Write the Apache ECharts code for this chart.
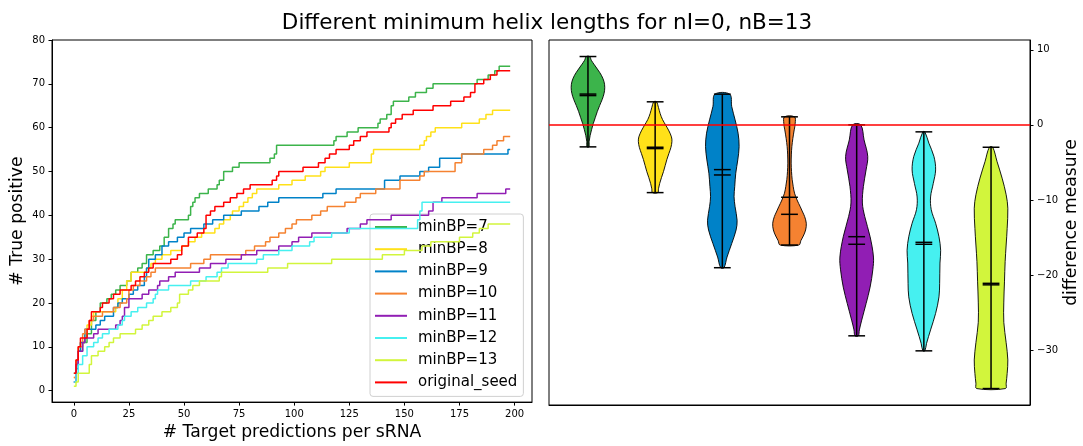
<!DOCTYPE html>
<html><head><meta charset="utf-8">
<script src="https://cdn.jsdelivr.net/npm/echarts@6/dist/echarts.min.js"></script>
<style>html,body{margin:0;padding:0;background:#fff}#c{width:1083px;height:446px}</style>
</head><body><div id="c"></div>
<script>
// ---- data ----
const titleText = 'Different minimum helix lengths for nI=0, nB=13';
const seriesNames = ['minBP=7','minBP=8','minBP=9','minBP=10','minBP=11','minBP=12','minBP=13','original_seed'];
const seriesColors = ['#3cb44b','#ffe119','#0082c8','#f58231','#911eb4','#46f0f0','#d2f53c','#ff0000'];
const xTickValues = [0,25,50,75,100,125,150,175,200];
const yTickValuesLeft = [0,10,20,30,40,50,60,70,80];
const yTickValuesRight = [-30,-20,-10,0,10];

// cumulative true positives: [x where value changes, new value]
const minBP7 = [[0,4],[1,6],[2,9],[4,11],[6,13],[8,16],[10,18],[12,20],[15,21],[17,22],[19,23],[21,24],[24,25],[26,27],[29,28],[31,29],[33,31],[36,32],[39,33],[41,35],[43,37],[45,38],[46,39],[52,40],[53,42],[54,43],[55,44],[57,45],[61,46],[65,47],[66,48],[68,50],[72,51],[75,52],[89,53],[91,54],[92,56],[118,57],[119,58],[124,59],[129,60],[138,61],[139,62],[142,63],[144,65],[145,66],[152,67],[155,68],[160,69],[163,70],[183,71],[188,72],[191,73],[193,74],[198,74]];
const minBP8 = [[0,3],[1,6],[2,9],[3,11],[5,13],[6,15],[8,17],[9,18],[19,19],[20,21],[22,23],[24,25],[26,27],[33,28],[35,29],[37,30],[40,31],[44,32],[49,33],[52,34],[55,35],[58,36],[64,37],[66,38],[68,39],[71,40],[72,41],[75,42],[77,43],[79,44],[81,45],[83,46],[93,47],[99,48],[105,49],[112,50],[114,51],[125,52],[135,54],[136,55],[157,56],[159,57],[160,58],[162,59],[164,60],[176,61],[184,62],[187,63],[190,64],[198,64]];
const minBP9 = [[0,2],[1,5],[2,9],[3,11],[5,14],[10,15],[12,16],[14,17],[18,19],[20,20],[22,21],[25,22],[27,23],[29,24],[32,26],[33,28],[34,30],[37,31],[40,33],[43,34],[47,35],[50,36],[53,37],[59,38],[63,39],[68,40],[76,41],[84,42],[88,43],[93,44],[113,45],[119,46],[141,48],[148,49],[157,50],[161,51],[166,53],[176,54],[197,55],[198,55]];
const minBP10 = [[0,3],[1,7],[2,10],[4,13],[5,14],[7,16],[9,17],[13,18],[18,19],[21,20],[24,21],[25,23],[27,24],[30,25],[33,26],[35,27],[37,28],[53,29],[59,30],[62,31],[78,32],[82,33],[87,34],[89,35],[93,36],[96,37],[99,38],[101,39],[108,40],[112,41],[115,42],[123,43],[128,44],[130,45],[137,46],[148,48],[157,49],[159,50],[173,52],[176,54],[186,55],[190,56],[192,57],[195,58],[198,58]];
const minBP11 = [[0,2],[1,6],[2,9],[4,11],[5,12],[9,13],[11,14],[19,15],[21,16],[22,17],[23,19],[25,21],[31,22],[34,23],[38,24],[39,25],[43,26],[46,27],[57,28],[62,29],[69,30],[76,31],[83,32],[93,33],[99,34],[102,35],[108,36],[124,37],[130,38],[133,39],[144,40],[161,41],[163,43],[167,44],[183,45],[196,46],[198,46]];
const minBP12 = [[0,2],[1,4],[2,6],[4,8],[6,10],[9,11],[11,12],[13,13],[16,14],[20,15],[22,16],[23,17],[26,18],[29,19],[33,20],[36,21],[37,22],[38,23],[43,24],[53,25],[60,26],[65,27],[67,28],[70,29],[83,30],[86,31],[93,32],[99,33],[107,34],[109,35],[117,36],[125,37],[156,39],[157,41],[158,43],[198,43]];
const minBP13 = [[0,1],[1,2],[2,4],[7,6],[8,8],[11,9],[14,10],[16,11],[18,12],[21,13],[28,14],[31,15],[34,16],[36,17],[40,18],[44,19],[47,20],[48,22],[52,23],[54,24],[57,25],[66,26],[67,27],[88,28],[97,29],[117,30],[140,31],[150,32],[158,33],[162,34],[175,35],[181,36],[184,37],[188,38],[198,38]];
const originalSeed = [[0,4],[1,7],[2,10],[3,12],[6,14],[7,16],[8,18],[12,19],[13,20],[16,21],[18,22],[21,23],[26,24],[28,25],[30,26],[32,27],[34,28],[36,29],[44,30],[47,31],[49,33],[52,35],[56,36],[59,37],[60,40],[62,41],[64,42],[68,43],[71,44],[74,45],[77,46],[80,47],[90,48],[92,49],[93,50],[104,51],[111,52],[114,53],[116,54],[119,55],[125,56],[127,57],[130,58],[133,59],[143,60],[144,61],[146,62],[149,63],[154,64],[163,65],[171,66],[177,67],[180,68],[182,70],[186,71],[189,72],[192,73],[198,73]];
const lineData = [minBP7, minBP8, minBP9, minBP10, minBP11, minBP12, minBP13, originalSeed];

// violins (difference measure)
const violinPositions = [1,2,3,4,5,6,7];
const violinMax = [9.1, 3.07, 4.09, 1.07, 0.0, -0.93, -2.98];
const violinMin = [-2.93, -9.02, -19.02, -16.0, -28.09, -30.09, -35.11];
const violinMean = [4.1, -2.98, -5.96, -9.64, -14.89, -15.64, -21.1];
const violinMedian = [3.9, -3.16, -6.67, -11.91, -15.9, -15.9, -21.3];
// density outline: [value, relative half-width]
const violinShape7 = [[9.1,0.1],[8.6,0.2],[8.0,0.38],[7.3,0.6],[6.6,0.8],[5.8,0.95],[5.0,1.0],[4.2,0.96],[3.4,0.85],[2.6,0.7],[1.8,0.56],[1.0,0.44],[0.2,0.32],[-0.6,0.22],[-1.4,0.13],[-2.2,0.07],[-2.93,0.06]];
const violinShape8 = [[3.07,0.08],[2.3,0.2],[1.5,0.3],[0.7,0.44],[0,0.62],[-0.8,0.82],[-1.6,0.97],[-2.2,1.0],[-3.0,0.94],[-3.8,0.82],[-4.6,0.7],[-5.4,0.6],[-6.2,0.5],[-7.0,0.38],[-7.8,0.27],[-8.5,0.2],[-9.02,0.16]];
const violinShape9 = [[4.09,0.44],[2.44,0.56],[0.67,0.76],[-1.11,0.94],[-2.89,1.0],[-4.67,0.92],[-6.44,0.8],[-8.2,0.74],[-9.56,0.7],[-10.9,0.76],[-12.7,0.88],[-14.0,0.82],[-15.8,0.56],[-17.6,0.28],[-19.02,0.1]];
const violinShape10 = [[1.07,0.3],[0.2,0.34],[-0.67,0.28],[-1.8,0.2],[-2.9,0.14],[-4.0,0.11],[-5.1,0.1],[-6.2,0.12],[-7.3,0.16],[-8.2,0.22],[-9.1,0.3],[-10.0,0.45],[-10.9,0.64],[-11.6,0.78],[-12.2,0.9],[-13.1,1.0],[-14.0,0.96],[-14.8,0.82],[-15.4,0.68],[-16.0,0.56]];
const violinShape11 = [[0,0.24],[-2.0,0.44],[-4.2,0.66],[-6.0,0.56],[-8.2,0.4],[-10.4,0.34],[-12.2,0.48],[-14.9,0.8],[-17.6,1.0],[-19.3,0.96],[-21.6,0.8],[-23.8,0.56],[-26.0,0.3],[-27.3,0.16],[-28.09,0.1]];
const violinShape12 = [[-0.93,0.06],[-2.44,0.3],[-4.2,0.6],[-6.0,0.7],[-7.8,0.56],[-9.6,0.4],[-11.3,0.44],[-13.1,0.7],[-14.9,0.9],[-16.7,1.0],[-18.4,0.96],[-21.1,0.94],[-22.9,0.9],[-25.1,0.7],[-27.3,0.4],[-29.1,0.16],[-30.09,0.06]];
const violinShape13 = [[-2.98,0.1],[-4.9,0.36],[-7.1,0.66],[-9.3,0.9],[-11.1,1.0],[-13.8,0.96],[-16.0,0.9],[-18.2,0.84],[-20.9,0.8],[-23.6,0.76],[-26.3,0.76],[-29.0,0.9],[-31.3,1.0],[-33.1,0.96],[-34.4,0.9],[-35.11,0.86]];
const violinShapes = [violinShape7, violinShape8, violinShape9, violinShape10, violinShape11, violinShape12, violinShape13];

const FONT = 'DejaVu Sans';
const chart = echarts.init(document.getElementById('c'), null, {renderer: 'canvas'});

function renderViolin(params, api) {
  const i = params.dataIndex;
  const pos = api.value(0);
  const prof = violinShapes[i];
  const halfMax = 0.25, capHalf = 0.125;
  const right = prof.map(p => api.coord([pos + p[1] * halfMax, p[0]]));
  const left = prof.slice().reverse().map(p => api.coord([pos - p[1] * halfMax, p[0]]));
  const children = [{
    type: 'polygon',
    shape: {points: right.concat(left), smooth: 0.35},
    style: {fill: seriesColors[i], stroke: '#000', lineWidth: 0.9}
  }];
  const seg = (a, b) => ({type: 'line', shape: {x1: a[0], y1: a[1], x2: b[0], y2: b[1]}, style: {stroke: '#000', lineWidth: 1.5}});
  children.push(seg(api.coord([pos, violinMax[i]]), api.coord([pos, violinMin[i]])));
  [violinMax[i], violinMin[i], violinMean[i], violinMedian[i]].forEach(v => {
    children.push(seg(api.coord([pos - capHalf, v]), api.coord([pos + capHalf, v])));
  });
  return {type: 'group', children};
}

const lineSeries = lineData.map((d, k) => ({
  name: seriesNames[k], type: 'line', step: 'end', data: d,
  xAxisIndex: 0, yAxisIndex: 0, showSymbol: false, symbol: 'none',
  color: seriesColors[k], lineStyle: {color: seriesColors[k], width: 1.5},
  z: 2 + k, animation: false
}));

const tickStyle = {color: '#000', fontFamily: FONT, fontSize: 10};

const option = {
  animation: false,
  backgroundColor: '#fff',
  title: {
    text: titleText, left: 542, top: 7, textAlign: 'center',
    textStyle: {fontFamily: FONT, fontSize: 21.5, fontWeight: 'normal', color: '#000'}
  },
  legend: {
    data: seriesNames, orient: 'vertical', left: 370, top: 214,
    icon: 'rect', itemWidth: 32, itemHeight: 2, itemGap: 6.2,
    padding: [5, 6, 6, 5],
    backgroundColor: 'rgba(255,255,255,0.8)', borderColor: '#d0d0d0', borderWidth: 1, borderRadius: 3,
    textStyle: {fontFamily: FONT, fontSize: 15, color: '#000', lineHeight: 16, padding: [0, 0, 0, 6]}
  },
  grid: [
    {left: 52, top: 40, width: 480, height: 365, show: true, borderColor: '#000', borderWidth: 1, containLabel: false},
    {left: 549, top: 40, width: 481, height: 365, show: true, borderColor: '#000', borderWidth: 1, containLabel: false}
  ],
  xAxis: [
    {type: 'value', gridIndex: 0, min: -9.9, max: 207.9,
     name: '# Target predictions per sRNA', nameLocation: 'middle', nameGap: 21,
     nameTextStyle: {fontFamily: FONT, fontSize: 17.2, color: '#000'},
     axisLine: {show: true, onZero: false, lineStyle: {color: '#000'}},
     axisTick: {show: true, length: 3.5, lineStyle: {color: '#000'}, customValues: xTickValues},
     axisLabel: {...tickStyle, margin: 7, customValues: xTickValues},
     splitLine: {show: false}},
    {type: 'value', gridIndex: 1, min: 0.42, max: 7.58,
     axisLine: {show: true, onZero: false, lineStyle: {color: '#000'}},
     axisTick: {show: false}, axisLabel: {show: false}, splitLine: {show: false}}
  ],
  yAxis: [
    {type: 'value', gridIndex: 0, min: -2.6, max: 80,
     name: '# True positive', nameLocation: 'middle', nameGap: 26, nameRotate: 90,
     nameTextStyle: {fontFamily: FONT, fontSize: 17.2, color: '#000'},
     axisLine: {show: true, onZero: false, lineStyle: {color: '#000'}},
     axisTick: {show: true, length: 3.5, lineStyle: {color: '#000'}, customValues: yTickValuesLeft},
     axisLabel: {...tickStyle, margin: 7, customValues: yTickValuesLeft},
     splitLine: {show: false}},
    {type: 'value', gridIndex: 1, position: 'right', min: -37.3, max: 11.3,
     name: 'difference measure', nameLocation: 'middle', nameGap: 33, nameRotate: 90,
     nameTextStyle: {fontFamily: FONT, fontSize: 17.2, color: '#000'},
     axisLine: {show: true, onZero: false, lineStyle: {color: '#000'}},
     axisTick: {show: true, length: 3.5, lineStyle: {color: '#000'}, customValues: yTickValuesRight},
     axisLabel: {...tickStyle, margin: 7, customValues: yTickValuesRight,
       formatter: v => String(v).replace('-', '\u2212')},
     splitLine: {show: false}}
  ],
  series: lineSeries.concat([
    {type: 'line', xAxisIndex: 1, yAxisIndex: 1, data: [], z: 1, silent: true,
     markLine: {silent: true, symbol: 'none', label: {show: false}, animation: false,
       lineStyle: {color: '#ff0000', width: 1.5, type: 'solid'}, data: [{yAxis: 0}]}},
    {type: 'custom', xAxisIndex: 1, yAxisIndex: 1, renderItem: renderViolin,
     data: violinPositions.map((p, i) => [p, violinMedian[i]]), z: 3, silent: true, clip: false}
  ])
};
chart.setOption(option);
</script></body></html>
